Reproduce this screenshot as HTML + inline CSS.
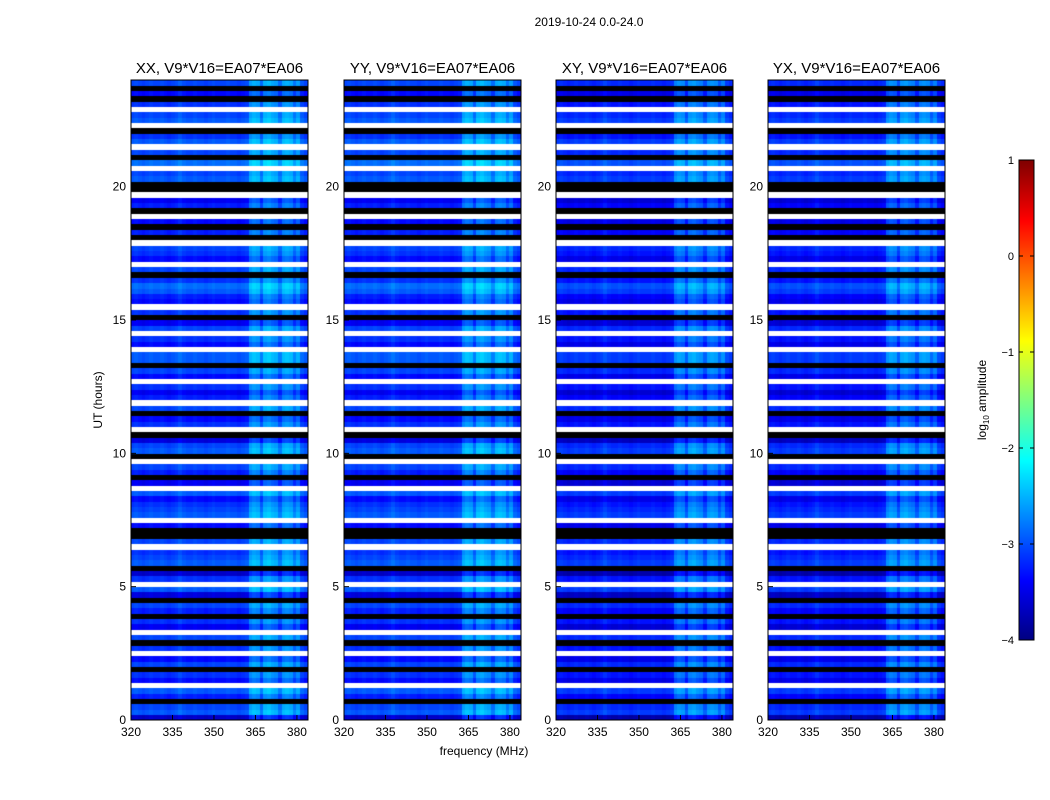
<!DOCTYPE html>
<html><head><meta charset="utf-8">
<style>
body{margin:0;background:#fff;width:1050px;height:800px;overflow:hidden;font-family:"Liberation Sans",sans-serif;}
#wrap{position:relative;width:1050px;height:800px;}
canvas{position:absolute;}
svg{position:absolute;left:0;top:0;}
</style></head>
<body>
<div id="wrap">
<svg id="svg" width="1050" height="800"></svg>
</div>
<script>
// ---- data ----
const panelTitles = ["XX, V9*V16=EA07*EA06","YY, V9*V16=EA07*EA06","XY, V9*V16=EA07*EA06","YX, V9*V16=EA07*EA06"];
const panelOffsets = [-0.35, -0.35, -0.5, -0.5];
// per 0.2 h time row (0h upward), log10 amplitude; null = flagged (white); < -4 = black
const rowLevels = [
-3.3,-2.6,-2.7,-5,-2.9,-2.6,null,-3.0,-2.8,-5,
-2.7,-3.0,null,-2.8,-5,-2.7,null,-3.1,-2.8,-5,
-2.9,-2.7,-5,-3.2,-2.6,null,-2.8,-3.3,-5,-2.6,
-2.7,-2.8,null,-2.7,-5,-5,-3.0,null,-2.6,-2.7,
-2.8,-3.0,-2.6,null,-3.1,-5,-2.9,-2.7,null,-5,
-2.6,-2.7,-3.2,-5,null,-2.8,-3.0,-5,-2.7,null,
-2.9,-3.1,-2.8,null,-3.0,-2.7,-5,-2.6,-2.6,null,
-3.0,-2.8,null,-2.7,-3.1,-5,-2.8,null,-3.0,-2.9,
-2.6,-2.5,-2.8,-5,-2.7,null,-3.0,-2.8,-2.7,null,
-5,-2.9,-5,-3.0,null,-5,-2.9,-3.1,null,-5,
-5,-2.6,-2.7,null,-2.5,-5,-2.7,null,-2.6,-2.8,
-5,null,-2.6,-2.7,null,-2.8,-5,-3.0,-5,-2.7
];
// per 1.333 MHz channel (320 -> 384 MHz) offset
const chanOffsets = [
0,0.05,0,-0.05,0,0.05,0,0,0.05,0,-0.05,0,0.05,0.15,0.05,0,
0,0.05,0,0,-0.05,0,0.05,0,0,0,0.05,0,0,-0.05,0,0.05,
0.45,0.55,0.5,0.2,0.55,0.6,0.5,0.45,0.2,0.5,0.55,0.5,0.25,0.45,0.1,0
];
const xTicks = [320,335,350,365,380];
const yTicks = [0,5,10,15,20];
const cbTicks = [1,0,-1,-2,-3,-4];
// ---- layout ----
const panelLefts=[131,344,556,768], PW=177, PT=80, PB=720;
const F0=320,F1=384,T0=0,T1=24,CH=(F1-F0)/chanOffsets.length,RH=(T1-T0)/rowLevels.length;
function jet(v){
  const c=x=>Math.max(0,Math.min(1,x));
  const r=c(1.5-Math.abs(4*v-3)),g=c(1.5-Math.abs(4*v-2)),b=c(1.5-Math.abs(4*v-1));
  return `rgb(${Math.round(r*255)},${Math.round(g*255)},${Math.round(b*255)})`;
}
function colorOf(v){ if(v===null) return '#fff'; if(v<-4) return '#000'; return jet(Math.min(1,(v+4)/5)); }
const svg=document.getElementById('svg'),NS='http://www.w3.org/2000/svg';
function el(tag,attrs,txt){const e=document.createElementNS(NS,tag);for(const k in attrs)e.setAttribute(k,attrs[k]);if(txt!==undefined)e.textContent=txt;svg.appendChild(e);return e;}
const wrap=document.getElementById('wrap');
panelLefts.forEach((L,p)=>{
  const xs=f=>L+(f-F0)/(F1-F0)*PW, ys=t=>PB-(t-T0)/(T1-T0)*(PB-PT);
  const cv=document.createElement('canvas');
  cv.width=1050;cv.height=800;cv.style.left='0px';cv.style.top='0px';
  
  
  wrap.insertBefore(cv,svg);
  const ctx=cv.getContext('2d');
  rowLevels.forEach((lv,i)=>{
    const y0=ys(i*RH),y1=ys((i+1)*RH);
    chanOffsets.forEach((co,j)=>{
      const v=lv===null?null:(lv<-4?lv:lv+co+panelOffsets[p]);
      ctx.fillStyle=colorOf(v);
      const x0=xs(F0+j*CH),x1=xs(F0+(j+1)*CH);
      ctx.fillRect(Math.floor(x0),Math.floor(y1),Math.ceil(x1)-Math.floor(x0),Math.ceil(y0)-Math.floor(y1));
    });
  });
  const fr=el('rect',{x:L,y:PT,width:PW,height:PB-PT,fill:'none',stroke:'#000','stroke-width':1});
  
  const t=el('text',{x:L+PW/2,y:73,'text-anchor':'middle','font-size':15},panelTitles[p]);
  
  xTicks.forEach(f=>{
    el('line',{x1:xs(f),x2:xs(f),y1:PB,y2:PB-5,stroke:'#000'});
    const l=el('text',{x:xs(f),y:PB+16,'text-anchor':'middle','font-size':12},f);
    
  });
  yTicks.forEach(v=>{
    el('line',{x1:L,x2:L+5,y1:ys(v),y2:ys(v),stroke:'#000'});
    const l=el('text',{x:L-5,y:ys(v)+4,'text-anchor':'end','font-size':12},v);
    
  });
});
const CBX=1019,CBW=15,CBT=160,CBB=640;
const cbY=v=>CBB-(v+4)/5*(CBB-CBT);
for(let k=0;k<240;k++){
  const v0=-4+5*k/240,v1=-4+5*(k+1)/240;
  el('rect',{x:CBX,y:cbY(v1),width:CBW,height:cbY(v0)-cbY(v1)+0.5,fill:jet((k+0.5)/240)});
}
const cbf=el('rect',{x:CBX,y:CBT,width:CBW,height:CBB-CBT,fill:'none',stroke:'#000'});

cbTicks.forEach(v=>{
  el('line',{x1:CBX,x2:CBX+4,y1:cbY(v),y2:cbY(v),stroke:'#000'});
  el('line',{x1:CBX+CBW-4,x2:CBX+CBW,y1:cbY(v),y2:cbY(v),stroke:'#000'});
  const l=el('text',{x:CBX-5,y:cbY(v)+4,'text-anchor':'end','font-size':11},v<0?'\u2212'+(-v):v);
  
});
</script>
<svg width="1050" height="800" style="position:absolute;left:0;top:0">
<text x="589" y="26" text-anchor="middle" font-size="12" font-family="Liberation Sans">2019-10-24 0.0-24.0</text>
<text x="484" y="755" text-anchor="middle" font-size="12" font-family="Liberation Sans">frequency (MHz)</text>
<text transform="translate(102,400) rotate(-90)" text-anchor="middle" font-size="12" font-family="Liberation Sans">UT (hours)</text>
<text transform="translate(986,400) rotate(-90)" text-anchor="middle" font-size="12" font-family="Liberation Sans">log<tspan font-size="8" dy="3">10</tspan><tspan dy="-3"> amplitude</tspan></text>
</svg>
</body></html>
